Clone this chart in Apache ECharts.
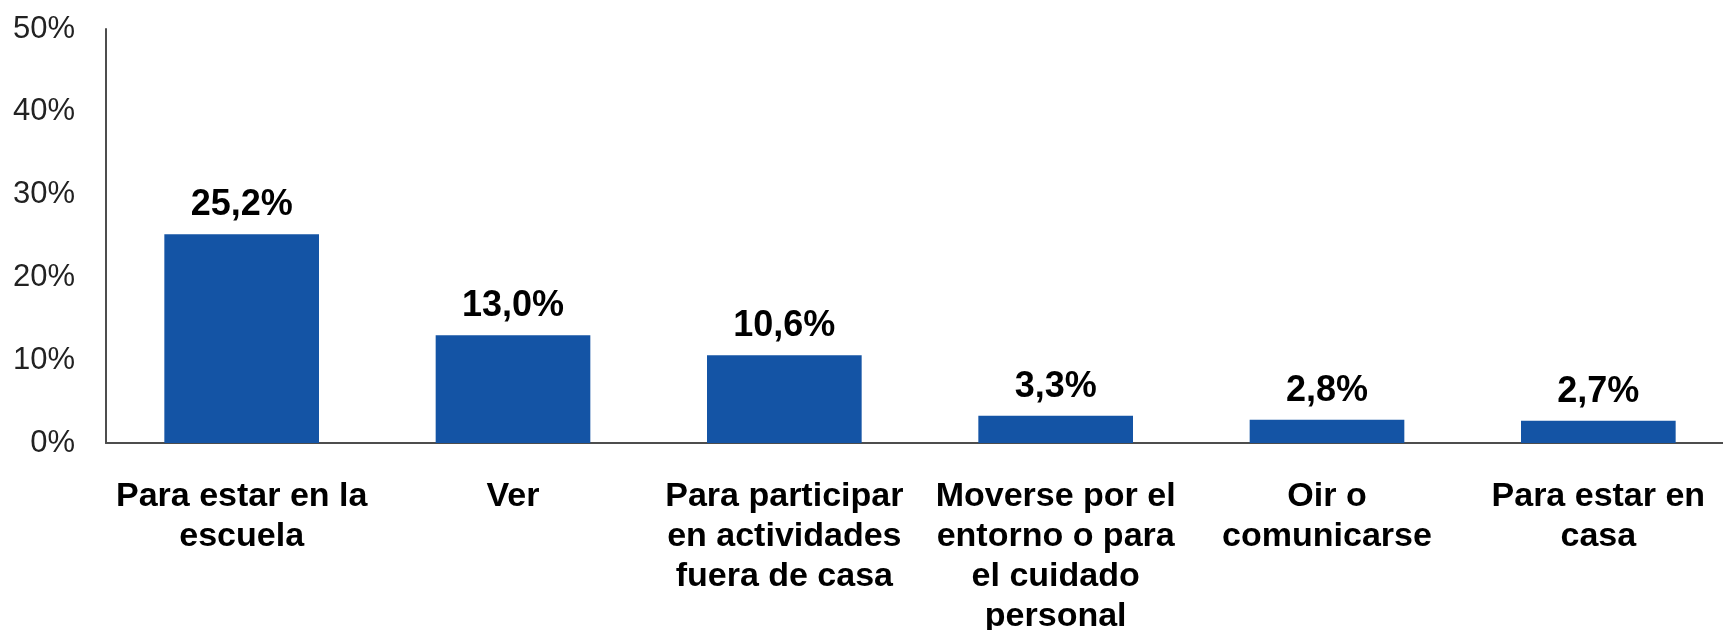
<!DOCTYPE html>
<html>
<head>
<meta charset="utf-8">
<script src="https://cdn.jsdelivr.net/npm/echarts@6/dist/echarts.min.js"></script>
<style>
html,body{margin:0;padding:0;background:#fff;}
#chart{width:1723px;height:630px;}
</style>
</head>
<body>
<div id="chart"></div>
<script>
const categories = [
  'Para estar en la\nescuela',
  'Ver',
  'Para participar\nen actividades\nfuera de casa',
  'Moverse por el\nentorno o para\nel cuidado\npersonal',
  'Oir o\ncomunicarse',
  'Para estar en\ncasa'
];
const values = [25.2, 13.0, 10.6, 3.3, 2.8, 2.7];
const yTicks = [0, 10, 20, 30, 40, 50];

const chart = echarts.init(document.getElementById('chart'));
const font = '"Liberation Sans", Arial, sans-serif';
chart.setOption({
  animation: false,
  backgroundColor: '#ffffff',
  grid: { left: 106, right: -11, top: 29, bottom: 187, containLabel: false, outerBoundsMode: 'none' },
  xAxis: {
    type: 'category',
    data: categories,
    axisLine: { show: true, lineStyle: { color: '#4d4d4d', width: 2 } },
    axisTick: { show: false },
    axisLabel: {
      interval: 0,
      margin: 34,
      fontFamily: font,
      fontWeight: 'bold',
      fontSize: 34,
      lineHeight: 40,
      color: '#000000'
    }
  },
  yAxis: {
    type: 'value',
    min: yTicks[0],
    max: yTicks[yTicks.length - 1],
    interval: 10,
    axisLine: { show: true, lineStyle: { color: '#4d4d4d', width: 2 } },
    axisTick: { show: false },
    splitLine: { show: false },
    axisLabel: {
      margin: 31,
      fontFamily: font,
      fontSize: 31,
      color: '#222222',
      formatter: v => v + '%'
    }
  },
  series: [{
    type: 'bar',
    data: values,
    barWidth: '57%',
    itemStyle: { color: '#1454A5' },
    label: {
      show: true,
      position: 'top',
      distance: 11,
      fontFamily: font,
      fontWeight: 'bold',
      fontSize: 36,
      color: '#000000',
      formatter: p => p.value.toFixed(1).replace('.', ',') + '%'
    }
  }]
});
</script>
</body>
</html>
